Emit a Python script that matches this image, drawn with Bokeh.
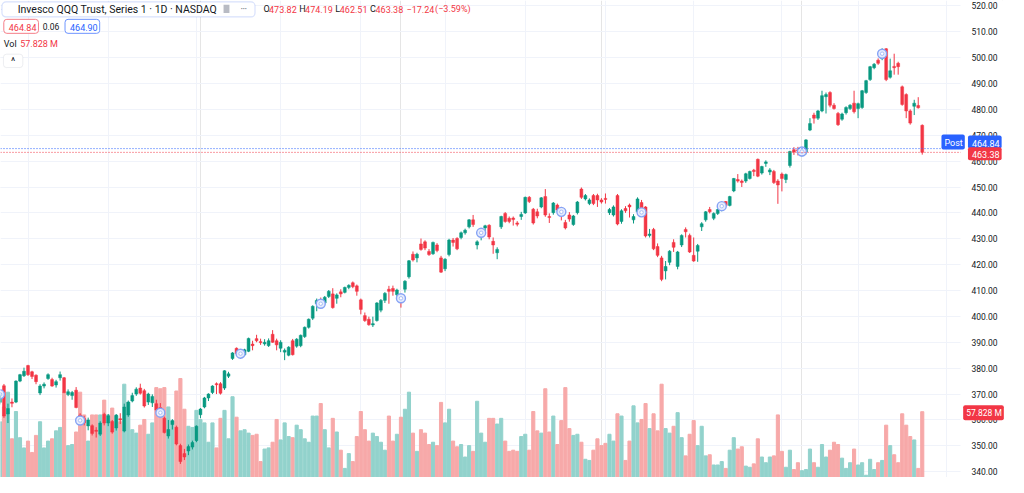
import numpy as np
from bokeh.plotting import figure
from bokeh.models import (Range1d, FixedTicker, Label, Span,
                          BoxAnnotation, Grid, ColumnDataSource)
from bokeh.embed import file_html
from bokeh.resources import INLINE

# ---------------- data (daily candles, oldest first) ----------------
opens = [366.8, 373.2, 362.3, 366.9, 366.9, 375.0, 377.1,
         381.0, 378.6, 377.3, 370.4, 373.1, 376.0, 375.6, 373.5, 376.3, 376.3, 369.8, 369.4, 371.5,
         361.9, 360.6, 357.7, 357.8, 356.0, 354.5, 362.2, 358.8, 359.4, 356.9, 360.5, 355.7, 361.9,
         367.3, 370.0, 372.3, 371.3, 366.9, 366.6, 366.3, 364.8, 360.7, 353.8, 358.2, 357.2, 350.1,
         347.0, 348.0, 349.5, 352.0, 362.0, 365.0, 368.5, 370.6, 374.0, 374.0, 372.3, 376.9, 383.7,
         387.7, 384.5, 385.2, 386.5, 389.3, 391.4, 390.2, 389.4, 388.7, 393.1, 390.6, 387.7, 386.2,
         385.0, 390.6, 388.5, 388.7, 392.2, 395.8, 399.3, 404.9, 406.3, 405.2, 407.7, 408.7, 407.0,
         409.5, 409.3, 411.2, 413.0, 411.8, 406.4, 400.3, 398.9, 396.7, 398.4, 402.4, 406.2, 410.5,
         410.8, 408.4, 407.8, 410.5, 415.3, 424.0, 422.6, 428.0, 428.8, 425.1, 424.2, 427.6, 422.6,
         418.4, 423.9, 429.5, 430.1, 430.5, 432.3, 434.6, 437.3, 427.6, 431.2, 434.2, 435.2, 429.0,
         424.6, 434.6, 439.8, 437.9, 438.0, 436.1, 438.6, 440.0, 446.0, 441.4, 440.4, 442.3, 446.3,
         438.6, 440.1, 443.0, 441.5, 436.3, 439.2, 435.5, 440.1, 449.2, 445.4, 443.6, 446.7, 446.7,
         445.0, 445.6, 440.1, 439.2, 446.7, 436.7, 441.7, 443.0, 437.3, 440.4, 444.0, 442.3, 431.3,
         433.6, 427.0, 422.6, 417.6, 420.9, 428.6, 419.3, 427.6, 433.6, 431.3, 423.6, 425.2, 434.6,
         437.3, 441.3, 437.9, 439.8, 441.9, 444.4, 442.9, 448.5, 452.9, 452.3, 452.3, 453.3, 456.5,
         460.7, 455.4, 459.1, 455.8, 456.0, 452.3, 455.0, 452.9, 458.3, 464.4, 464.3, 463.0, 463.5,
         472.0, 477.8, 476.6, 479.4, 484.9, 486.5, 481.6, 478.4, 476.2, 478.7, 480.3, 482.4, 480.3,
         480.7, 486.5, 491.5, 496.1, 499.0, 499.6, 503.4, 492.4, 496.6, 497.8, 488.7, 485.7, 479.4,
         481.2, 481.5, 473.82]
highs = [370.6, 373.9, 366.3, 368.3, 375.3, 377.8, 380.2,
         381.3, 379.0, 377.6, 373.8, 374.5, 378.0, 376.3, 375.5, 378.7, 376.6, 371.8, 371.2, 372.7,
         362.6, 361.6, 360.9, 358.3, 357.2, 359.5, 362.8, 362.3, 360.0, 362.3, 362.6, 366.3, 367.5,
         370.5, 372.6, 374.0, 372.0, 370.5, 369.9, 367.8, 366.5, 361.3, 360.0, 360.3, 357.8, 350.8,
         348.8, 350.5, 352.0, 357.9, 364.6, 368.9, 370.3, 373.4, 374.5, 374.6, 379.2, 378.6, 386.2,
         388.0, 386.5, 387.5, 391.8, 390.6, 392.9, 391.4, 391.2, 391.5, 394.7, 391.4, 390.8, 387.6,
         388.5, 391.3, 391.6, 393.0, 396.1, 399.2, 404.3, 406.9, 407.3, 407.9, 410.2, 410.9, 408.9,
         410.5, 411.5, 412.4, 413.5, 412.3, 406.9, 401.5, 399.9, 399.9, 405.5, 406.7, 409.4, 411.8,
         411.9, 410.7, 408.6, 414.0, 421.8, 425.1, 424.6, 430.1, 429.4, 426.0, 428.9, 428.3, 423.4,
         422.5, 430.0, 430.3, 430.6, 432.8, 433.9, 437.6, 439.2, 429.4, 433.0, 435.4, 435.6, 430.5,
         426.7, 438.9, 440.3, 438.6, 438.6, 436.8, 440.4, 446.3, 446.5, 441.9, 441.6, 446.1, 449.2,
         439.8, 444.2, 443.6, 442.3, 437.3, 440.3, 439.2, 444.6, 449.8, 447.3, 445.6, 447.3, 447.4,
         445.7, 447.5, 441.9, 442.9, 447.3, 441.4, 442.6, 443.6, 439.5, 446.0, 445.0, 442.6, 433.8,
         434.2, 428.2, 423.4, 421.4, 425.6, 429.8, 425.3, 431.7, 434.4, 432.0, 430.5, 428.0, 436.4,
         440.7, 442.3, 440.2, 441.6, 443.9, 444.6, 446.6, 453.5, 455.0, 452.9, 455.5, 456.3, 457.0,
         461.0, 458.2, 460.3, 457.3, 456.6, 453.0, 455.6, 455.2, 464.0, 465.4, 465.5, 464.5, 468.5,
         476.6, 478.7, 479.8, 487.2, 486.5, 487.0, 482.4, 479.0, 478.7, 481.2, 482.0, 487.2, 482.6,
         487.5, 491.4, 496.8, 497.9, 499.7, 503.6, 503.7, 499.6, 501.5, 498.4, 489.2, 486.2, 480.0,
         483.7, 484.7, 474.19]
lows = [366.0, 360.8, 358.8, 364.9, 366.5, 374.6, 376.6,
        377.0, 375.8, 373.8, 369.6, 372.2, 375.5, 372.8, 372.5, 375.2, 370.3, 369.2, 367.8, 364.5,
        359.3, 357.9, 356.0, 354.0, 353.2, 353.8, 357.9, 357.6, 354.7, 355.9, 358.4, 355.2, 361.2,
        366.8, 369.3, 369.8, 364.8, 365.8, 365.0, 363.2, 361.8, 354.8, 352.8, 356.3, 350.2, 343.0,
        344.5, 346.4, 348.6, 351.4, 360.7, 364.5, 367.3, 370.0, 370.0, 369.8, 371.6, 376.2, 383.2,
        384.9, 383.6, 384.8, 386.2, 386.9, 390.0, 389.0, 388.7, 388.2, 389.8, 386.9, 386.2, 383.1,
        384.6, 384.9, 387.9, 388.1, 391.7, 395.3, 398.6, 402.0, 403.9, 404.6, 407.1, 403.0, 404.9,
        407.4, 408.9, 410.5, 410.9, 408.0, 400.8, 397.9, 396.4, 395.9, 398.0, 401.6, 405.2, 404.9,
        408.0, 407.2, 403.4, 409.2, 414.6, 421.2, 420.9, 425.4, 425.6, 423.4, 423.8, 424.8, 416.8,
        417.5, 423.2, 427.0, 425.6, 429.8, 431.6, 434.0, 434.6, 425.9, 429.4, 432.3, 429.8, 424.2,
        422.1, 433.8, 436.2, 436.0, 435.1, 434.8, 437.3, 439.6, 443.8, 435.5, 437.9, 441.8, 438.5,
        436.1, 439.3, 440.4, 437.1, 433.6, 436.6, 435.0, 439.4, 445.4, 444.8, 443.0, 443.0, 442.3,
        443.6, 443.6, 439.2, 438.6, 435.2, 435.8, 440.0, 438.2, 435.9, 439.8, 439.0, 430.5, 430.5,
        425.6, 422.9, 413.6, 414.3, 419.8, 424.9, 418.2, 426.8, 430.5, 424.5, 421.1, 421.1, 433.0,
        436.6, 439.8, 437.2, 439.2, 440.6, 442.3, 442.5, 448.0, 451.7, 450.0, 451.6, 452.9, 454.2,
        453.8, 454.8, 457.8, 454.6, 451.2, 443.5, 448.3, 451.5, 457.5, 462.4, 462.2, 461.8, 462.6,
        471.6, 474.5, 475.9, 478.9, 478.4, 480.8, 479.9, 473.6, 475.6, 478.0, 479.8, 478.4, 476.6,
        480.2, 486.0, 491.0, 495.5, 497.2, 499.0, 490.9, 491.9, 493.4, 493.4, 481.4, 476.6, 474.1,
        477.8, 480.3, 462.51]
closes = [369.9, 361.5, 364.4, 366.4, 375.0, 377.5, 378.8,
          377.5, 376.8, 374.8, 373.1, 373.8, 377.5, 373.1, 374.8, 377.5, 370.6, 370.9, 370.6, 364.8,
          359.8, 358.9, 360.0, 354.8, 355.6, 358.8, 358.8, 361.6, 355.3, 361.9, 360.0, 365.0, 366.9,
          369.4, 371.9, 370.3, 365.4, 370.0, 369.1, 363.8, 362.8, 355.1, 356.3, 359.7, 350.7, 343.9,
          345.7, 349.7, 351.3, 357.6, 364.2, 368.5, 370.0, 373.1, 373.6, 370.3, 379.0, 377.8, 385.9,
          385.6, 385.6, 387.1, 391.5, 388.7, 390.6, 389.9, 390.0, 390.6, 390.0, 389.0, 390.0, 386.9,
          388.1, 385.2, 391.2, 392.7, 395.8, 398.9, 403.9, 406.2, 404.9, 407.4, 409.7, 403.4, 408.3,
          408.7, 411.2, 412.0, 411.5, 409.7, 402.7, 398.4, 396.8, 397.2, 405.2, 406.2, 408.9, 409.7,
          409.7, 410.2, 407.0, 413.6, 421.5, 421.8, 424.0, 425.9, 426.4, 423.9, 428.6, 425.5, 417.1,
          422.1, 429.5, 428.6, 426.1, 432.3, 433.3, 437.3, 435.5, 428.8, 432.3, 435.0, 430.7, 427.6,
          425.9, 438.6, 436.7, 436.7, 437.4, 435.6, 439.4, 446.0, 444.4, 436.1, 438.8, 445.8, 439.2,
          438.2, 443.8, 441.1, 440.4, 434.2, 437.6, 438.8, 444.2, 446.0, 446.7, 445.0, 443.6, 445.0,
          444.2, 445.2, 441.3, 442.3, 435.7, 440.8, 440.8, 442.3, 438.6, 445.4, 440.2, 431.1, 431.8,
          426.1, 423.6, 414.3, 419.3, 425.2, 426.7, 424.9, 431.3, 432.7, 424.9, 421.4, 427.4, 435.8,
          440.4, 440.4, 439.8, 441.3, 442.6, 442.9, 446.3, 453.3, 452.3, 451.7, 455.1, 456.0, 456.0,
          454.2, 457.9, 459.7, 456.6, 451.7, 450.8, 453.3, 454.8, 463.7, 463.5, 464.0, 463.7, 468.2,
          474.5, 476.6, 479.4, 485.3, 485.7, 481.6, 480.3, 474.1, 478.2, 480.7, 481.6, 479.1, 482.2,
          487.2, 491.1, 496.5, 497.4, 497.8, 501.5, 491.5, 494.9, 496.1, 496.5, 481.9, 479.4, 474.7,
          482.4, 480.62, 463.38]
volumes_m = [49, 62, 75, 34, 58, 35, 26,
             32, 22, 37, 49, 26, 32, 34, 41, 44, 75, 28, 29, 40,
             75, 55, 32, 55, 55, 55, 68, 55, 61, 54, 49, 82, 66,
             42, 39, 46, 51, 38, 48, 79, 78, 79, 62, 50, 76, 87,
             60, 45, 44, 59, 51, 48, 31, 48, 26, 52, 59, 34, 71,
             53, 41, 42, 39, 37, 38, 14, 25, 26, 31, 51, 33, 48,
             36, 35, 46, 42, 34, 31, 54, 54, 65, 42, 26, 52, 40,
             24, 8, 21, 14, 36, 58, 42, 32, 39, 36, 31, 24, 54,
             32, 38, 53, 60, 75, 39, 23, 42, 39, 29, 31, 28, 66,
             48, 60, 32, 27, 29, 18, 28, 23, 67, 39, 31, 52, 52,
             47, 52, 32, 23, 24, 23, 36, 38, 24, 58, 41, 39, 78,
             40, 54, 29, 50, 79, 43, 37, 38, 31, 16, 15, 24, 34,
             28, 30, 38, 32, 56, 54, 15, 32, 63, 48, 51, 65, 43,
             56, 41, 82, 43, 39, 45, 57, 35, 19, 38, 50, 28, 45,
             19, 20, 11, 11, 14, 8, 24, 35, 25, 27, 10, 9, 12,
             34, 18, 13, 18, 19, 55, 23, 9, 24, 7, 13, 6, 7,
             25, 13, 9, 29, 18, 24, 31, 29, 17, 8, 13, 25, 11,
             13, 2, 16, 7, 13, 15, 46, 28, 20, 13, 56, 46, 36,
             33, 8, 57.828]
month_start_idx = [7, 27, 49, 70, 90, 111, 131, 151, 173, 195, 214, 236]
price_ticks = list(range(340, 521, 10))
post_price = 464.84
bid_price, spread, ask_price = 464.84, 0.06, 464.90
series_title = "Invesco QQQ Trust, Series 1 · 1D · NASDAQ"

# ---------------- geometry (reference-pixel layout -> data) ----------------
REF_FW, REF_H = 977, 493          # reference plot-area width, full height
FRAME_W, FRAME_H = 960, 477       # candle area width here, full height here
TOTAL_W = 1008
X_LO, X_HI = 0.14, 239.54
P_LO, P_HI = 337.76, 522.06
VOL_HI = 419.2
UNIT = (X_HI - X_LO) / FRAME_W    # data units per screen pixel
X_END = X_LO + TOTAL_W * UNIT

def ix(px):
    if px <= REF_FW:
        return X_LO + px / REF_FW * (X_HI - X_LO)
    return X_HI + (px - REF_FW) * UNIT

def py(px):
    return P_HI - px / REF_H * (P_HI - P_LO)

GREEN, RED, BLUE = "#089981", "#f23645", "#2962ff"
VGREEN, VRED = "#92d2cc", "#f7a9a9"
TXT = "#131722"
GRIDC = "#f0f3fa"
FONT = "Roboto"

o = np.array(opens); h = np.array(highs); l = np.array(lows); c = np.array(closes)
v = np.array(volumes_m, dtype=float)
N = len(c)
x = np.arange(N)
up = c >= o
top = np.maximum(o, c); bot = np.minimum(o, c)
mid = (top + bot) / 2
small = (top - bot) < 0.4
top = np.where(small, mid + 0.2, top); bot = np.where(small, mid - 0.2, bot)

src = ColumnDataSource(dict(x=x, h=h, l=l, top=top, bot=bot, v=v,
                            col=np.where(up, GREEN, RED).tolist(),
                            vcol=np.where(up, VGREEN, VRED).tolist()))

p = figure(width=TOTAL_W, height=FRAME_H,
           x_range=Range1d(X_LO, X_END), y_range=Range1d(P_LO, P_HI),
           x_axis_location=None, y_axis_location=None,
           output_backend="svg", toolbar_location=None, tools="",
           min_border=0)
p.outline_line_color = None
p.background_fill_color = "white"
p.extra_y_ranges = {"vol": Range1d(0, VOL_HI)}

p.add_layout(Grid(dimension=1, ticker=FixedTicker(ticks=price_ticks),
                  grid_line_color=GRIDC))
p.add_layout(Grid(dimension=0, ticker=FixedTicker(ticks=month_start_idx),
                  grid_line_color=GRIDC))

# volume
p.vbar(x="x", top="v", bottom=0, width=0.78, color="vcol", source=src, y_range_name="vol")

# candles
p.segment(x0="x", y0="h", x1="x", y1="l", color="col", line_width=1, source=src)
p.vbar(x="x", top="top", bottom="bot", width=0.72, fill_color="col", line_color="col",
       line_width=0.5, source=src)

# periodic markers on closes
mk = x[::20]
p.scatter(mk, c[mk], size=9, fill_color="#e6ecfd", line_color="#86a3f5", line_width=1.4)
p.scatter(mk, c[mk], size=3.5, fill_color="#ffffff", line_color="#a9bff7", line_width=1)

# price lines
p.add_layout(Span(location=post_price, dimension="width", line_color=BLUE,
                  line_dash="1 2", line_width=1))
p.add_layout(Span(location=c[-1], dimension="width", line_color=RED,
                  line_dash="1 2", line_width=1))

# price-scale area (white panel on the right)
p.add_layout(BoxAnnotation(left=ix(REF_FW), right=X_END, fill_color="white",
                           fill_alpha=1, line_color=None))

def lab(px, pyy, text, color=TXT, size="9px", align="left", **kw):
    p.add_layout(Label(x=ix(px), y=py(pyy), text=text, text_color=color,
                       text_font=FONT, text_font_size=size, text_align=align,
                       text_baseline="middle", **kw))

# price scale tick labels
for t in price_ticks:
    p.add_layout(Label(x=ix(988), y=t, text=f"{t:.2f}", text_color=TXT, text_font=FONT,
                       text_font_size="8.5px", text_align="left", text_baseline="middle"))

# header row 1
p.add_layout(BoxAnnotation(left=ix(1.5), right=ix(259), top=py(1.5), bottom=py(17),
                           fill_color="white", fill_alpha=1, line_color="#7d9bf6",
                           line_width=1.2, border_radius=4))
p.scatter([ix(8)], [py(9)], size=12, fill_color="#1f4fd6", line_color="#1f4fd6")
p.scatter([ix(8)], [py(9)], size=6, fill_color=None, line_color="white", line_width=1.2)
lab(17.5, 9.0, series_title, size="10.5px")
p.add_layout(BoxAnnotation(left=ix(227), right=ix(233), top=py(4.5), bottom=py(13),
                           fill_color="#b8bbc4", fill_alpha=1, line_color=None))
lab(244.5, 8.4, "•••", color="#787b86", size="6px")

chg = c[-1] - c[-2]
pct = chg / c[-2] * 100
parts = [(267.7, "O", TXT), (273.3, f"{o[-1]:.2f}", RED),
         (304.0, "H", TXT), (310.0, f"{h[-1]:.2f}", RED),
         (340.7, "L", TXT), (345.3, f"{l[-1]:.2f}", RED),
         (376.0, "C", TXT), (381.7, f"{c[-1]:.2f}", RED),
         (413.3, f"{chg:+.2f}".replace("-", "−"), RED),
         (442.3, f"({pct:+.2f}%)".replace("-", "−"), RED)]
for px_, t, col in parts:
    lab(px_, 8.8, t, color=col, size="9px")

# header row 2
lab(21, 26.7, f"{bid_price:.2f}", color=RED, size="9px", align="center",
    background_fill_color="white", border_line_color="#f57f89", border_line_width=1,
    padding=(5, 2, 5, 2), border_radius=3)
lab(51.5, 26.7, f"{spread:.2f}", color=TXT, size="8.5px", align="center")
lab(83.3, 26.7, f"{ask_price:.2f}", color=BLUE, size="9px", align="center",
    background_fill_color="white", border_line_color="#6f95ff", border_line_width=1,
    padding=(5, 2, 5, 2), border_radius=3)

# row 3: volume legend
lab(3.3, 45.3, "Vol", color=TXT, size="9px")
lab(20, 45.3, f"{v[-1]:.3f} M", color=RED, size="9px")

# row 4: collapse button
p.add_layout(BoxAnnotation(left=ix(3), right=ix(22.7), top=py(55.5), bottom=py(69.3),
                           fill_color="white", fill_alpha=1, line_color="#c3c6cf",
                           line_width=1, border_radius=3))
lab(12.8, 63.4, "^", color=TXT, size="10px", align="center")

# right-side price tags
lab(969.5, 146.3, "Post", color="white", size="9px", align="center",
    background_fill_color=BLUE, padding=(3, 2, 3, 2), border_radius=2)
lab(1001.3, 146.3, f"{post_price:.2f}", color="white", size="9px", align="center",
    background_fill_color=BLUE, padding=(4, 2, 4, 2), border_radius=2)
lab(1001.3, 158.5, f"{c[-1]:.2f}", color="white", size="9px", align="center",
    background_fill_color=RED, padding=(4, 2, 4, 2), border_radius=2)
lab(1000.0, 426.0, f"{v[-1]:.3f} M", color="white", size="8.5px", align="center",
    background_fill_color=RED, padding=(3, 2, 3, 2), border_radius=2)

open("out.html", "w").write(file_html(p, INLINE))
